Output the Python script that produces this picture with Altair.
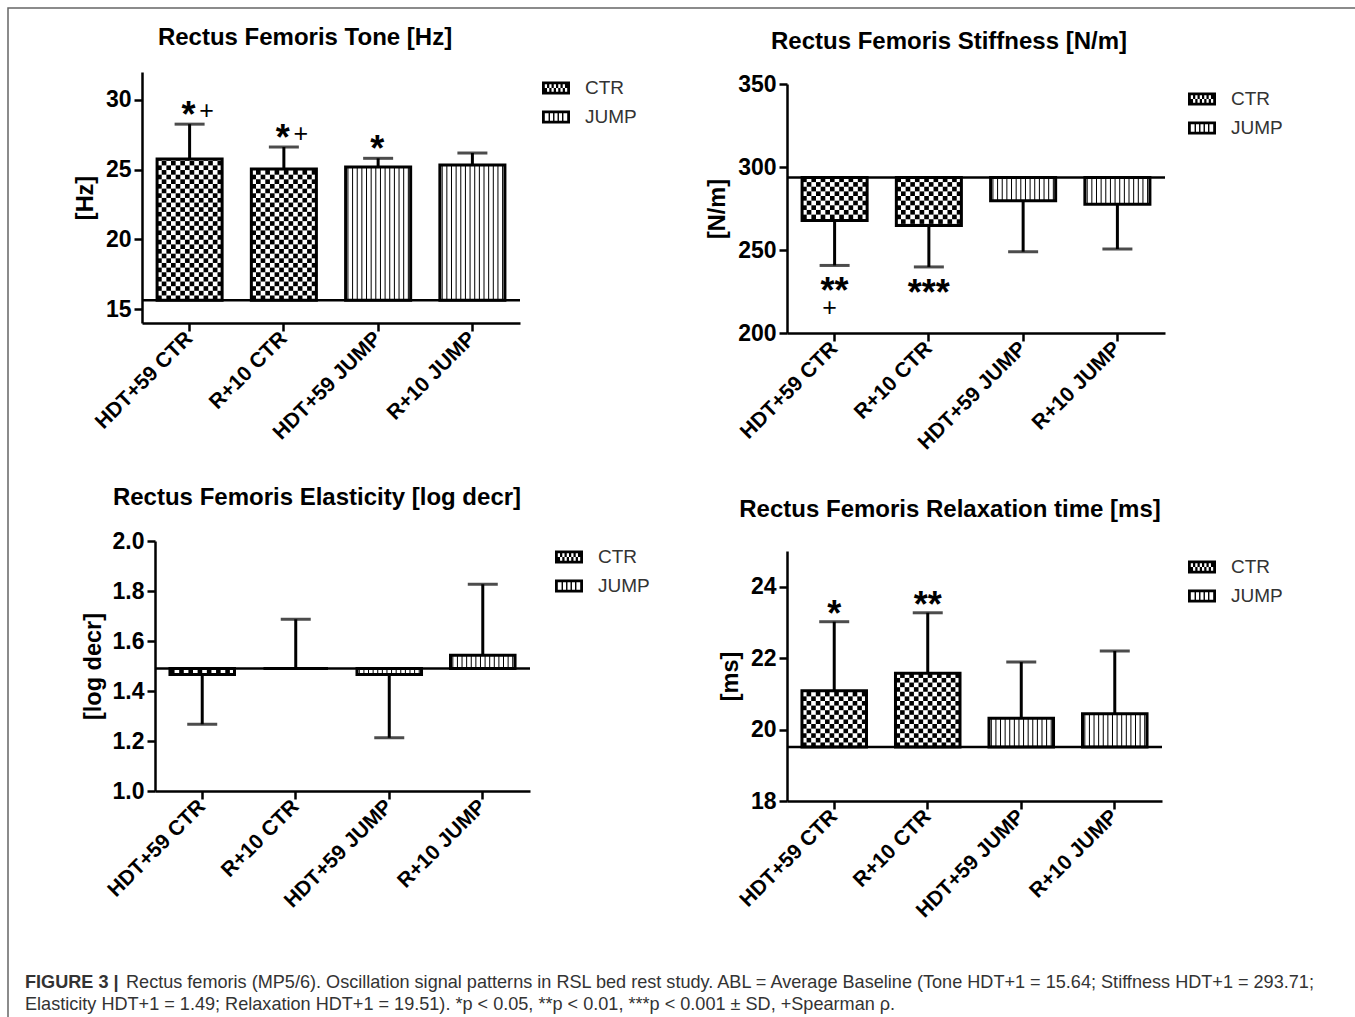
import altair as alt
import pandas as pd
import numpy as np

categories = ["HDT+59 CTR", "R+10 CTR", "HDT+59 JUMP", "R+10 JUMP"]
groups = ["CTR", "CTR", "JUMP", "JUMP"]

tone_mean = [25.76, 25.05, 25.19, 25.33]
tone_sd = [2.50, 1.57, 0.62, 0.86]
tone_base = 15.64
tone_stars = ["*", "*", "*", ""]
tone_plus = ["+", "+", "", ""]

stiff_mean = [267.8, 264.8, 279.6, 277.6]
stiff_sd = [27.1, 25.0, 30.6, 27.0]
stiff_base = 293.71
stiff_stars = ["**", "***", "", ""]
stiff_plus = ["+", "", "", ""]

elast_mean = [1.466, 1.49, 1.466, 1.543]
elast_sd = [0.199, 0.197, 0.253, 0.284]
elast_base = 1.49
elast_stars = ["", "", "", ""]
elast_plus = ["", "", "", ""]

relax_mean = [21.09, 21.58, 20.32, 20.44]
relax_sd = [1.93, 1.69, 1.57, 1.76]
relax_base = 19.51
relax_stars = ["*", "**", "", ""]
relax_plus = ["", "", "", ""]

caption_bold = "FIGURE 3 |"
caption_line1 = ("Rectus femoris (MP5/6). Oscillation signal patterns in RSL bed rest study. "
                 "ABL = Average Baseline (Tone HDT+1 = 15.64; Stiffness HDT+1 = 293.71;")
caption_line2 = ("Elasticity HDT+1 = 1.49; Relaxation HDT+1 = 19.51). *p < 0.05, **p < 0.01, "
                 "***p < 0.001 \u00b1 SD, +Spearman \u03c1.")

FONT = "Liberation Sans"
W, H = 1355, 1017
PI, PO = 0.31, 0.16
NC = 14
CAP_FS = 18.1


def rect_path(x0, y0, x1, y1, ccw=False):
    if not ccw:
        return f"M{x0},{y0}L{x1},{y0}L{x1},{y1}L{x0},{y1}Z"
    return f"M{x0},{y0}L{x0},{y1}L{x1},{y1}L{x1},{y0}Z"


def ctr_symbol():
    p = rect_path(-1, -0.46, 1, 0.46)
    xs = np.linspace(-0.8, 0.8, 11)
    ys = [-0.26, 0.0, 0.26]
    for r in range(2):
        for c in range(10):
            if (r + c) % 2 == 0:
                p += rect_path(round(xs[c], 3), ys[r], round(xs[c + 1], 3), ys[r + 1], ccw=True)
    return p


def jump_symbol():
    p = rect_path(-1, -0.46, 1, 0.46)
    p += rect_path(-0.8, -0.26, 0.8, 0.26, ccw=True)
    for x in [-0.48, -0.16, 0.16, 0.48]:
        p += rect_path(x - 0.05, -0.26, x + 0.05, 0.26)
    return p


def panel(title, title_xy, ytitle, means, sds, base, domain, ticks, fmt, xr, yr,
          stars, plus, star_dy, star_dx, plus_dx, plus_dy, legend_xy, ytitle_pad):
    n = len(categories)
    sign = [1 if m >= base else -1 for m in means]
    ends = [m + s * d for m, s, d in zip(means, sign, sds)]
    df = pd.DataFrame({"cat": categories, "group": groups, "mean": means,
                       "base": base, "end": ends, "star": stars, "plus": plus})

    width = xr[1] - xr[0]
    height = yr[0] - yr[1]
    step = width / (n - PI + 2 * PO)
    bw = step * (1 - PI)
    cell_px = bw / NC
    ppu = height / (domain[1] - domain[0])
    cu = cell_px / ppu
    chk = []
    stripes = []
    for cat, g, m in zip(categories, groups, means):
        span = abs(m - base)
        sg = 1 if m >= base else -1
        if g == "CTR":
            nr = int(np.ceil(span / cu))
            for r in range(nr):
                a = base + sg * r * cu
                b = base + sg * min((r + 1) * cu, span)
                for c in range(NC):
                    if (r + c) % 2 == 0:
                        chk.append({"cat": cat, "col": c, "y0": a, "y1": b})
        else:
            for c in range(NC):
                stripes.append({"cat": cat, "col": c, "y0": base, "y1": m})
    chk = pd.DataFrame(chk)
    stripes = pd.DataFrame(stripes)

    xscale = alt.Scale(domain=categories, range=list(xr), paddingInner=PI, paddingOuter=PO)
    yscale = alt.Scale(domain=domain, range=list(yr), nice=False, zero=False)
    xaxis = alt.Axis(title=None, orient="bottom", offset=yr[0] - H, labelAngle=-45,
                     labelFontSize=21, labelPadding=4, labelAlign="right",
                     labelBaseline="middle")
    yaxis = alt.Axis(orient="left", offset=-xr[0], values=ticks, format=fmt,
                     titlePadding=ytitle_pad)

    X = alt.X("cat:N", scale=xscale, axis=xaxis, sort=categories)
    XO = alt.XOffset("col:O", scale=alt.Scale(paddingInner=0, paddingOuter=0))

    def Y(f):
        return alt.Y(f, type="quantitative", scale=yscale, axis=yaxis, title=ytitle)

    b = alt.Chart(df)
    fill = b.mark_bar(fill="white", strokeWidth=0).encode(x=X, y=Y("mean"), y2="base")
    checker = alt.Chart(chk).mark_bar(color="black", strokeWidth=0).encode(
        x=X, xOffset=XO, y=Y("y0"), y2="y1")
    stripe = alt.Chart(stripes).mark_rule(color="black", strokeWidth=1).encode(
        x=X, xOffset=XO, y=Y("y0"), y2="y1")
    outline = b.mark_bar(fillOpacity=0, stroke="black", strokeWidth=3).encode(
        x=X, y=Y("mean"), y2="base")
    err = b.mark_rule(color="black", strokeWidth=3).encode(x=X, y=Y("mean"), y2="end")
    cap = b.mark_tick(color="black", thickness=3, size=30, orient="horizontal").encode(
        x=X, y=Y("end"))
    basedf = pd.DataFrame({"base": [base]})
    baseline = alt.Chart(basedf).mark_rule(color="black", strokeWidth=2.5).encode(
        y=Y("base"), x=alt.value(xr[0]), x2=alt.value(xr[1]))
    startxt = b.mark_text(font=FONT, fontSize=36, fontWeight="bold", color="black",
                          baseline="alphabetic", dy=star_dy, dx=star_dx).encode(
        x=X, y=Y("end"), text="star:N")
    plustxt = b.mark_text(font=FONT, fontSize=25, color="black",
                          baseline="alphabetic", dy=plus_dy, dx=plus_dx).encode(
        x=X, y=Y("end"), text="plus:N")
    legdf = pd.DataFrame({"group": ["CTR", "JUMP"], "cat": [categories[0]] * 2,
                          "v": [base, base]})
    leg = alt.Chart(legdf).mark_point(filled=True, color="black", opacity=0).encode(
        x=X, y=Y("v"),
        shape=alt.Shape("group:N",
                        scale=alt.Scale(domain=["CTR", "JUMP"],
                                        range=[ctr_symbol(), jump_symbol()]),
                        legend=alt.Legend(title=None, orient="none",
                                          legendX=legend_xy[0], legendY=legend_xy[1],
                                          symbolSize=784, labelOffset=15,
                                          labelFontSize=19, labelColor="#333",
                                          labelFont=FONT, rowPadding=5,
                                          symbolStrokeWidth=0, symbolOpacity=1,
                                          symbolFillColor="black", padding=0)))
    ttl = alt.Chart(pd.DataFrame({"t": [title]})).mark_text(
        font=FONT, fontSize=24, fontWeight="bold", color="black", align="center",
        baseline="middle").encode(x=alt.value(title_xy[0]), y=alt.value(title_xy[1]),
                                  text="t:N")
    return alt.layer(fill, checker, stripe, outline, err, cap, baseline, startxt,
                     plustxt, leg, ttl)


tl = panel("Rectus Femoris Tone [Hz]", (305, 38), "[Hz]", tone_mean, tone_sd, tone_base,
           [14, 32], [15, 20, 25, 30], "d", (142, 520), (323, 72), tone_stars, tone_plus,
           3, -1, 17, -5, (542, 74), 8)
tr = panel("Rectus Femoris Stiffness [N/m]", (949, 42), "[N/m]", stiff_mean, stiff_sd,
           stiff_base, [200, 350], [200, 250, 300, 350], "d", (787, 1165), (333, 84),
           stiff_stars, stiff_plus, 38, 0, -5, 51, (1188, 85), 8)
bl = panel("Rectus Femoris Elasticity [log decr]", (317, 498), "[log decr]", elast_mean,
           elast_sd, elast_base, [1.0, 2.0], [1.0, 1.2, 1.4, 1.6, 1.8, 2.0], ".1f",
           (155, 530), (791, 541), elast_stars, elast_plus, 6, 0, 0, 0, (555, 543), 7)
br = panel("Rectus Femoris Relaxation time [ms]", (950, 510), "[ms]", relax_mean, relax_sd,
           relax_base, [18, 25], [18, 20, 22, 24], "d", (787, 1162), (801, 551),
           relax_stars, relax_plus, 4, 0, 0, 0, (1188, 553), 8)

capdf = pd.DataFrame({"b": [caption_bold], "l1": [caption_line1], "l2": [caption_line2]})
capbase = alt.Chart(capdf)
cap_bold = capbase.mark_text(font=FONT, fontSize=CAP_FS, fontWeight="bold", color="#333",
                             align="left", baseline="middle").encode(
    x=alt.value(25), y=alt.value(983), text="b:N")
cap_l1 = capbase.mark_text(font=FONT, fontSize=CAP_FS, color="#333", align="left",
                           baseline="middle").encode(
    x=alt.value(126), y=alt.value(983), text="l1:N")
cap_l2 = capbase.mark_text(font=FONT, fontSize=CAP_FS, color="#333", align="left",
                           baseline="middle").encode(
    x=alt.value(25), y=alt.value(1005), text="l2:N")
frame = capbase.mark_rect(fillOpacity=0, stroke="#666", strokeWidth=1.5).encode(
    x=alt.value(8), y=alt.value(8), x2=alt.value(W + 20), y2=alt.value(H + 20))

chart = alt.layer(tl, tr, bl, br, cap_bold, cap_l1, cap_l2, frame).resolve_scale(
    x="independent", y="independent", xOffset="independent", shape="independent"
).resolve_legend(shape="independent").resolve_axis(x="independent", y="independent").properties(
    width=W, height=H, padding=0, background="white",
    autosize=alt.AutoSizeParams(type="none"),
).configure_view(stroke=None).configure_axis(
    domainColor="black", domainWidth=2.5, tickColor="black", tickWidth=2.5, tickSize=8,
    labelFont=FONT, labelFontWeight="bold", labelFontSize=23, labelColor="black",
    labelPadding=3, titleFont=FONT, titleFontSize=23.5, titleFontWeight="bold",
    titleColor="black", grid=False
)

chart.save("out.html", embed_options={"renderer": "svg", "actions": False})
